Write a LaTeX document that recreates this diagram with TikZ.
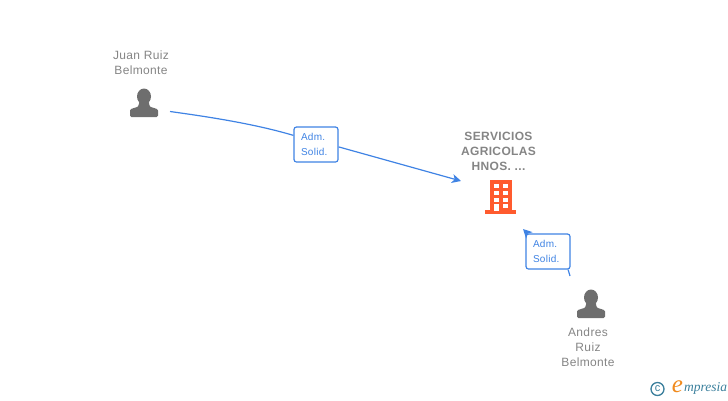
\documentclass[tikz,border=0pt]{standalone}
\usepackage{fontspec}
\setmainfont{Liberation Sans}
\newfontfamily\fuenteNombre[LetterSpace=3]{Liberation Sans}
\newfontfamily\fuenteLogo{Liberation Serif}
\usetikzlibrary{arrows.meta}
\definecolor{gristexto}{HTML}{858585}
\definecolor{grisicono}{HTML}{6E6E6E}
\definecolor{azul}{HTML}{3F83E4}
\definecolor{naranja}{HTML}{FF5B2E}
\definecolor{logoazul}{HTML}{3A7F9C}
\definecolor{logonaranja}{HTML}{F08A1D}
\begin{document}
\begin{tikzpicture}[x=1pt,y=-1pt]
	\tikzstyle{fleche}=[azul,line width=1.2pt,-{Stealth[length=9pt,width=9pt,inset=2.5pt]}]
	\tikzstyle{trait}=[azul,line width=1.2pt]
	\tikzstyle{etiquette}=[draw=azul,line width=1.2pt,fill=white,rounded corners=2.5pt,minimum width=44pt,minimum height=35pt,inner sep=0pt,text=azul,text width=30pt,font=\fontsize{10}{15}\selectfont\fuenteNombre,align=left]
	\tikzstyle{personne}=[text=gristexto,font=\fontsize{12}{15}\selectfont\fuenteNombre,align=center]
	\tikzstyle{societe}=[text=gristexto,font=\fontsize{12}{15}\selectfont\fuenteNombre\bfseries,align=center]
	\tikzstyle{fenetre}=[fill=white]
	\tikzset{
		silhouette/.pic={
			\fill[grisicono] (0,-20.5) ellipse (7 and 8);
			\fill[grisicono,rounded corners=1.5pt] (-14,0) -- (-14,-5) .. controls (-14,-9) and (-7,-9) .. (-5,-12) -- (-5,-16) -- (5,-16) -- (5,-12) .. controls (7,-9) and (14,-9) .. (14,-5) -- (14,0) -- cycle;
		}
	}
	\useasboundingbox (0,0) rectangle (728,400);

	% personnes et societe
	\node[personne] (Juan) at (141,62.5) {Juan Ruiz\\Belmonte};
	\node[societe] (Serv) at (498.5,151) {SERVICIOS\\AGRICOLAS\\HNOS. ...};
	\node[personne] (Andres) at (588,347) {Andres\\Ruiz\\Belmonte};
	\pic at (144,117) {silhouette};
	\pic at (591,318) {silhouette};

	% immeuble
	\fill[naranja] (489.5,180) rectangle (511.5,211);
	\fill[naranja] (485,210.3) rectangle (516,213.7);
	\foreach \y in {183.5,190.5,197.5} {
		\fill[fenetre] (493.5,\y) rectangle ++(5,4);
		\fill[fenetre] (502.5,\y) rectangle ++(5,4);
	}
	\fill[fenetre] (502.5,204) rectangle ++(5,4);
	\fill[fenetre] (493.5,203.5) rectangle ++(5,7);

	% liens
	\coordinate (JuanFin) at (170,111.5);
	\coordinate (ServG) at (461,181);
	\coordinate (ServB) at (523,229);
	\coordinate (AndresFin) at (570,276);
	\node[etiquette] (Lien) at (316,144.5) {Adm.\\Solid.};
	\node[etiquette] (LienB) at (548,251.5) {Adm.\\Solid.};
	\draw[trait] (JuanFin) .. controls (210,117) and (255,124) .. (Lien.158);
	\draw[fleche] (Lien.-6) -- (ServG);
	\draw[trait] (AndresFin) -- (LienB.-42);
	\draw[fleche] (LienB.142) .. controls (526,232) .. (ServB);

	% logo
	\node[draw=logoazul,circle,line width=1.3pt,minimum size=13pt,inner sep=0pt,text=logoazul,font=\fontsize{11}{11}\selectfont] (Copy) at (657.5,389) {c};
	\node[inner sep=0pt,text=logonaranja,font=\fontsize{25}{25}\selectfont\fuenteLogo\itshape] (LogoE) at (677.5,386.5) {e};
	\node[inner sep=0pt,anchor=west,text=logoazul,font=\fontsize{13.5}{13.5}\selectfont\fuenteLogo\itshape] (LogoT) at (684,388.5) {mpresia};
\end{tikzpicture}
\end{document}
